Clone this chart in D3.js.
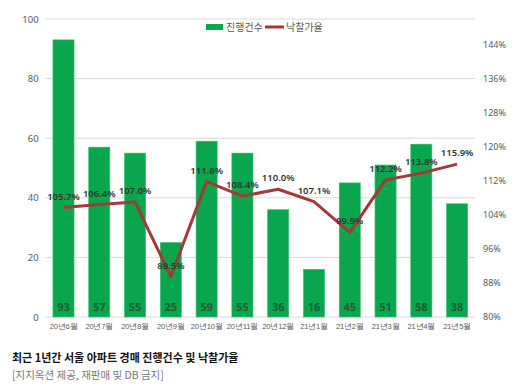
<!DOCTYPE html>
<html>
<head>
<meta charset="utf-8">
<script src="https://cdn.jsdelivr.net/npm/d3@7"></script>
<style>
body{margin:0;background:#fff;font-family:"Noto Sans CJK KR","Noto Sans",sans-serif;}
</style>
</head>
<body>
<div id="chart"></div>
<script>
// data
var months = ['20년6월','20년7월','20년8월','20년9월','20년10월','20년11월','20년12월','21년1월','21년2월','21년3월','21년4월','21년5월'];
var counts = [93,57,55,25,59,55,36,16,45,51,58,38];
var rates = [105.7,106.4,107.0,89.5,111.8,108.4,110.0,107.1,99.9,112.2,113.8,115.9];
var leftTicks = [0,20,40,60,80,100];
var rightTicks = [80,88,96,104,112,120,128,136,144];

var W = 513, H = 388;
var m = {t:19,r:38,b:71,l:45.6};

var svg = d3.select('#chart').append('svg')
	.attr('width',W).attr('height',H);

var x = d3.scaleBand().domain(months).range([m.l,W-m.r]).paddingInner(0.41).paddingOuter(0.205);
var yL = d3.scaleLinear().domain([0,100]).range([H-m.b,m.t]);
var yR = d3.scaleLinear().domain([80,150]).range([H-m.b,m.t]);

//gridlines
svg.append('g').selectAll('line').data(leftTicks).join('line')
	.attr('x1',m.l).attr('x2',W-m.r)
	.attr('y1',d=>yL(d)).attr('y2',d=>yL(d))
	.style('stroke','#d9d9d9').style('stroke-width',1);

//left axis
var axL = svg.append('g').attr('transform','translate('+(m.l-7)+',0)')
	.call(d3.axisLeft(yL).tickValues(leftTicks).tickSize(0).tickPadding(0));
axL.select('.domain').remove();
axL.selectAll('text').style('font-size','9.5px').style('fill','#595959').style('font-family','"Noto Sans",sans-serif');

//right axis
var axR = svg.append('g').attr('transform','translate('+(W-m.r+8)+',0)')
	.call(d3.axisRight(yR).tickValues(rightTicks).tickSize(0).tickPadding(0).tickFormat(d=>d+'%'));
axR.select('.domain').remove();
axR.selectAll('text').style('font-size','9px').style('fill','#595959').style('font-family','"Noto Sans",sans-serif');

//x axis
var axX = svg.append('g').attr('transform','translate(0,'+(H-m.b)+')')
	.call(d3.axisBottom(x).tickSize(0).tickPadding(7));
axX.select('.domain').remove();
axX.selectAll('text').style('font-size','7.6px').style('fill','#595959').style('letter-spacing','-0.2px');

//bars
svg.append('g').selectAll('rect').data(counts).join('rect')
	.attr('x',(d,i)=>x(months[i]))
	.attr('y',d=>yL(d))
	.attr('width',x.bandwidth())
	.attr('height',d=>yL(0)-yL(d))
	.style('fill','#0aa64e')
	.style('stroke','#3cc06f').style('stroke-width',0.6);

svg.append('g').selectAll('text').data(counts).join('text')
	.attr('x',(d,i)=>x(months[i])+x.bandwidth()/2)
	.attr('y',yL(0)-6)
	.attr('text-anchor','middle')
	.style('font-size','11px').style('font-weight','bold')
	.style('fill','#1d5c36').style('font-family','"Noto Sans",sans-serif')
	.text(d=>d);

//line
var line = d3.line()
	.x((d,i)=>x(months[i])+x.bandwidth()/2)
	.y(d=>yR(d));
svg.append('path').datum(rates)
	.attr('d',line)
	.style('fill','none').style('stroke','#a33a3a').style('stroke-width',3)
	.style('stroke-linejoin','round');

svg.append('g').selectAll('text').data(rates).join('text')
	.attr('x',(d,i)=>x(months[i])+x.bandwidth()/2)
	.attr('y',d=>yR(d)-8)
	.attr('text-anchor','middle')
	.style('font-size','9.5px').style('font-weight','600')
	.style('fill','#333').style('font-family','"Noto Sans",sans-serif')
	.text(d=>d.toFixed(1)+'%');

//legend
var lg = svg.append('g').attr('transform','translate(206,27)');
lg.append('rect').attr('x',0).attr('y',-3).attr('width',17).attr('height',6).style('fill','#0aa64e');
lg.append('text').attr('x',20).attr('y',4).text('진행건수').style('font-size','10px').style('fill','#595959');
lg.append('line').attr('x1',59).attr('x2',78).attr('y1',0).attr('y2',0).style('stroke','#a33a3a').style('stroke-width',3);
lg.append('text').attr('x',80).attr('y',4).text('낙찰가율').style('font-size','10px').style('fill','#595959');

//caption
svg.append('text').attr('x',12).attr('y',362)
	.text('최근 1년간 서울 아파트 경매 진행건수 및 낙찰가율')
	.style('font-size','11px').style('font-weight','bold').style('fill','#111');
svg.append('text').attr('x',12).attr('y',379)
	.text('[지지옥션 제공, 재판매 및 DB 금지]')
	.style('font-size','10.5px').style('fill','#777');
</script>
</body>
</html>
